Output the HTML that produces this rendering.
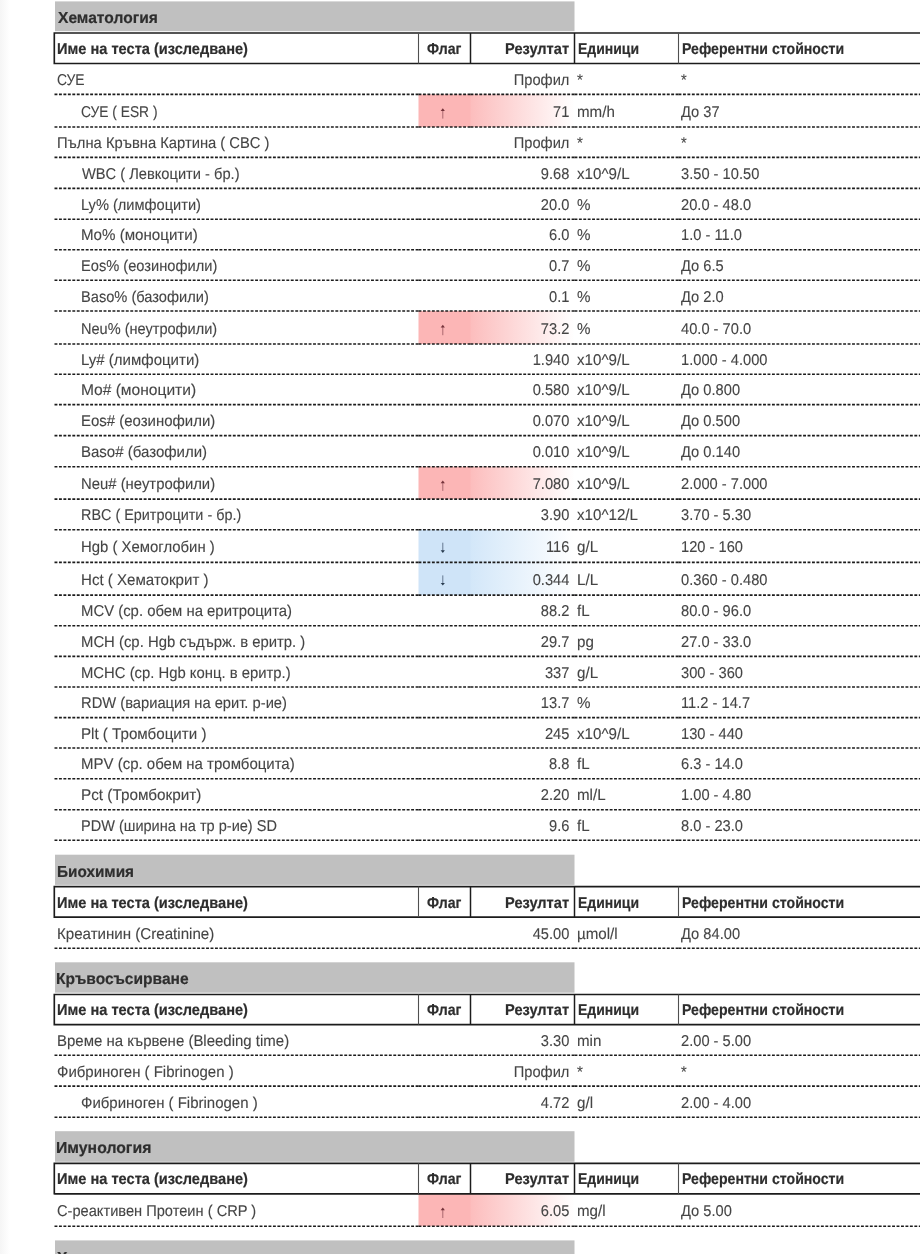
<!DOCTYPE html>
<html><head><meta charset="utf-8"><title>Резултати</title>
<style>
html,body{margin:0;padding:0;background:#fff;}
#lm{position:absolute;left:0;top:0;width:10px;height:1254px;background:linear-gradient(to right,#f5f5f5,#f9f9f9 40%,#fcfcfc 70%,#fff);}
body{width:920px;height:1254px;overflow:hidden;position:relative;font-family:"Liberation Sans",sans-serif;color:#454545;}
svg{position:absolute;left:0;top:0;}
.gt,.ht,.t{position:absolute;white-space:nowrap;line-height:20px;text-rendering:geometricPrecision;-webkit-text-stroke:0.2px currentColor;}
.t{-webkit-text-stroke-width:0.12px;}
.gt{font-weight:bold;font-size:15.9px;color:#2e2e2e;transform:scaleX(0.98);transform-origin:0 0;}
.ht{font-weight:bold;font-size:15.8px;color:#2e2e2e;transform-origin:0 0;}
.t{font-size:15.7px;transform:scaleX(0.935);transform-origin:0 0;}
.r{text-align:right;transform-origin:100% 0 !important;}
.c{text-align:center;transform-origin:50% 0 !important;}
#tx{position:absolute;left:0;top:0;width:920px;height:1254px;will-change:transform;}
</style></head><body>
<div id="lm"></div>
<svg width="920" height="1254" viewBox="0 0 920 1254">
<defs>
<linearGradient id="gp" x1="0" x2="1" y1="0" y2="0"><stop offset="0" stop-color="#fcbdbd"/><stop offset="1" stop-color="#fff"/></linearGradient>
<linearGradient id="gb" x1="0" x2="1" y1="0" y2="0"><stop offset="0" stop-color="#d3e7f9"/><stop offset="1" stop-color="#fff"/></linearGradient>
</defs>
<g>
<rect x="55" y="1.4" width="519.5" height="29.8" fill="#c0c0c0"/>
<rect x="418.5" y="94.4" width="52.6" height="32.6" fill="#fcb6b6"/>
<rect x="470.5" y="94.4" width="104" height="32.6" fill="url(#gp)"/>
<rect x="418.5" y="311" width="52.6" height="33" fill="#fcb6b6"/>
<rect x="470.5" y="311" width="104" height="33" fill="url(#gp)"/>
<rect x="418.5" y="466.7" width="52.6" height="32.4" fill="#fcb6b6"/>
<rect x="470.5" y="466.7" width="104" height="32.4" fill="url(#gp)"/>
<rect x="418.5" y="529.7" width="52.6" height="32.7" fill="#cfe4f8"/>
<rect x="470.5" y="529.7" width="104" height="32.7" fill="url(#gb)"/>
<rect x="418.5" y="562.4" width="52.6" height="32.7" fill="#cfe4f8"/>
<rect x="470.5" y="562.4" width="104" height="32.7" fill="url(#gb)"/>
<rect x="55" y="854.7" width="519.5" height="30.2" fill="#c0c0c0"/>
<rect x="55" y="962.3" width="519.5" height="30.4" fill="#c0c0c0"/>
<rect x="55" y="1131.2" width="519.5" height="30.6" fill="#c0c0c0"/>
<rect x="418.5" y="1193.8" width="52.6" height="32.4" fill="#fcb6b6"/>
<rect x="470.5" y="1193.8" width="104" height="32.4" fill="url(#gp)"/>
<rect x="55" y="1240.4" width="519.5" height="30.6" fill="#c0c0c0"/>
</g>
<g stroke="#1c1c1c" stroke-width="1.6" fill="none">
<path d="M960 33H54.3 M54.3 63.5H960 M54.3 32.18V64.32" stroke="#1c1c1c" stroke-width="1.65" fill="none"/>
<path d="M418.5 33V63.5" stroke="#505050" stroke-width="1.1"/>
<path d="M470.5 33V63.5" stroke="#1c1c1c" stroke-width="1.5"/>
<path d="M574.5 33V63.5" stroke="#1c1c1c" stroke-width="1.5"/>
<path d="M678.5 33V63.5" stroke="#505050" stroke-width="1.1"/>
<line x1="54.5" y1="94.4" x2="418.5" y2="94.4" stroke-dasharray="2.9 1.5580"/><line x1="418.5" y1="94.4" x2="470.5" y2="94.4" stroke-dasharray="2.9 1.5636"/><line x1="470.5" y1="94.4" x2="574.5" y2="94.4" stroke-dasharray="2.9 1.4957"/><line x1="574.5" y1="94.4" x2="678.5" y2="94.4" stroke-dasharray="2.9 1.4957"/><line x1="678.5" y1="94.4" x2="960" y2="94.4" stroke-dasharray="2.9 1.5500"/>
<line x1="54.5" y1="127" x2="418.5" y2="127" stroke-dasharray="2.9 1.5580"/><line x1="418.5" y1="127" x2="470.5" y2="127" stroke-dasharray="2.9 1.5636"/><line x1="470.5" y1="127" x2="574.5" y2="127" stroke-dasharray="2.9 1.4957"/><line x1="574.5" y1="127" x2="678.5" y2="127" stroke-dasharray="2.9 1.4957"/><line x1="678.5" y1="127" x2="960" y2="127" stroke-dasharray="2.9 1.5500"/>
<line x1="54.5" y1="157.4" x2="418.5" y2="157.4" stroke-dasharray="2.9 1.5580"/><line x1="418.5" y1="157.4" x2="470.5" y2="157.4" stroke-dasharray="2.9 1.5636"/><line x1="470.5" y1="157.4" x2="574.5" y2="157.4" stroke-dasharray="2.9 1.4957"/><line x1="574.5" y1="157.4" x2="678.5" y2="157.4" stroke-dasharray="2.9 1.4957"/><line x1="678.5" y1="157.4" x2="960" y2="157.4" stroke-dasharray="2.9 1.5500"/>
<line x1="54.5" y1="188.4" x2="418.5" y2="188.4" stroke-dasharray="2.9 1.5580"/><line x1="418.5" y1="188.4" x2="470.5" y2="188.4" stroke-dasharray="2.9 1.5636"/><line x1="470.5" y1="188.4" x2="574.5" y2="188.4" stroke-dasharray="2.9 1.4957"/><line x1="574.5" y1="188.4" x2="678.5" y2="188.4" stroke-dasharray="2.9 1.4957"/><line x1="678.5" y1="188.4" x2="960" y2="188.4" stroke-dasharray="2.9 1.5500"/>
<line x1="54.5" y1="219.2" x2="418.5" y2="219.2" stroke-dasharray="2.9 1.5580"/><line x1="418.5" y1="219.2" x2="470.5" y2="219.2" stroke-dasharray="2.9 1.5636"/><line x1="470.5" y1="219.2" x2="574.5" y2="219.2" stroke-dasharray="2.9 1.4957"/><line x1="574.5" y1="219.2" x2="678.5" y2="219.2" stroke-dasharray="2.9 1.4957"/><line x1="678.5" y1="219.2" x2="960" y2="219.2" stroke-dasharray="2.9 1.5500"/>
<line x1="54.5" y1="249.8" x2="418.5" y2="249.8" stroke-dasharray="2.9 1.5580"/><line x1="418.5" y1="249.8" x2="470.5" y2="249.8" stroke-dasharray="2.9 1.5636"/><line x1="470.5" y1="249.8" x2="574.5" y2="249.8" stroke-dasharray="2.9 1.4957"/><line x1="574.5" y1="249.8" x2="678.5" y2="249.8" stroke-dasharray="2.9 1.4957"/><line x1="678.5" y1="249.8" x2="960" y2="249.8" stroke-dasharray="2.9 1.5500"/>
<line x1="54.5" y1="280.2" x2="418.5" y2="280.2" stroke-dasharray="2.9 1.5580"/><line x1="418.5" y1="280.2" x2="470.5" y2="280.2" stroke-dasharray="2.9 1.5636"/><line x1="470.5" y1="280.2" x2="574.5" y2="280.2" stroke-dasharray="2.9 1.4957"/><line x1="574.5" y1="280.2" x2="678.5" y2="280.2" stroke-dasharray="2.9 1.4957"/><line x1="678.5" y1="280.2" x2="960" y2="280.2" stroke-dasharray="2.9 1.5500"/>
<line x1="54.5" y1="311" x2="418.5" y2="311" stroke-dasharray="2.9 1.5580"/><line x1="418.5" y1="311" x2="470.5" y2="311" stroke-dasharray="2.9 1.5636"/><line x1="470.5" y1="311" x2="574.5" y2="311" stroke-dasharray="2.9 1.4957"/><line x1="574.5" y1="311" x2="678.5" y2="311" stroke-dasharray="2.9 1.4957"/><line x1="678.5" y1="311" x2="960" y2="311" stroke-dasharray="2.9 1.5500"/>
<line x1="54.5" y1="344" x2="418.5" y2="344" stroke-dasharray="2.9 1.5580"/><line x1="418.5" y1="344" x2="470.5" y2="344" stroke-dasharray="2.9 1.5636"/><line x1="470.5" y1="344" x2="574.5" y2="344" stroke-dasharray="2.9 1.4957"/><line x1="574.5" y1="344" x2="678.5" y2="344" stroke-dasharray="2.9 1.4957"/><line x1="678.5" y1="344" x2="960" y2="344" stroke-dasharray="2.9 1.5500"/>
<line x1="54.5" y1="374.3" x2="418.5" y2="374.3" stroke-dasharray="2.9 1.5580"/><line x1="418.5" y1="374.3" x2="470.5" y2="374.3" stroke-dasharray="2.9 1.5636"/><line x1="470.5" y1="374.3" x2="574.5" y2="374.3" stroke-dasharray="2.9 1.4957"/><line x1="574.5" y1="374.3" x2="678.5" y2="374.3" stroke-dasharray="2.9 1.4957"/><line x1="678.5" y1="374.3" x2="960" y2="374.3" stroke-dasharray="2.9 1.5500"/>
<line x1="54.5" y1="404.6" x2="418.5" y2="404.6" stroke-dasharray="2.9 1.5580"/><line x1="418.5" y1="404.6" x2="470.5" y2="404.6" stroke-dasharray="2.9 1.5636"/><line x1="470.5" y1="404.6" x2="574.5" y2="404.6" stroke-dasharray="2.9 1.4957"/><line x1="574.5" y1="404.6" x2="678.5" y2="404.6" stroke-dasharray="2.9 1.4957"/><line x1="678.5" y1="404.6" x2="960" y2="404.6" stroke-dasharray="2.9 1.5500"/>
<line x1="54.5" y1="435.6" x2="418.5" y2="435.6" stroke-dasharray="2.9 1.5580"/><line x1="418.5" y1="435.6" x2="470.5" y2="435.6" stroke-dasharray="2.9 1.5636"/><line x1="470.5" y1="435.6" x2="574.5" y2="435.6" stroke-dasharray="2.9 1.4957"/><line x1="574.5" y1="435.6" x2="678.5" y2="435.6" stroke-dasharray="2.9 1.4957"/><line x1="678.5" y1="435.6" x2="960" y2="435.6" stroke-dasharray="2.9 1.5500"/>
<line x1="54.5" y1="466.7" x2="418.5" y2="466.7" stroke-dasharray="2.9 1.5580"/><line x1="418.5" y1="466.7" x2="470.5" y2="466.7" stroke-dasharray="2.9 1.5636"/><line x1="470.5" y1="466.7" x2="574.5" y2="466.7" stroke-dasharray="2.9 1.4957"/><line x1="574.5" y1="466.7" x2="678.5" y2="466.7" stroke-dasharray="2.9 1.4957"/><line x1="678.5" y1="466.7" x2="960" y2="466.7" stroke-dasharray="2.9 1.5500"/>
<line x1="54.5" y1="499.1" x2="418.5" y2="499.1" stroke-dasharray="2.9 1.5580"/><line x1="418.5" y1="499.1" x2="470.5" y2="499.1" stroke-dasharray="2.9 1.5636"/><line x1="470.5" y1="499.1" x2="574.5" y2="499.1" stroke-dasharray="2.9 1.4957"/><line x1="574.5" y1="499.1" x2="678.5" y2="499.1" stroke-dasharray="2.9 1.4957"/><line x1="678.5" y1="499.1" x2="960" y2="499.1" stroke-dasharray="2.9 1.5500"/>
<line x1="54.5" y1="529.7" x2="418.5" y2="529.7" stroke-dasharray="2.9 1.5580"/><line x1="418.5" y1="529.7" x2="470.5" y2="529.7" stroke-dasharray="2.9 1.5636"/><line x1="470.5" y1="529.7" x2="574.5" y2="529.7" stroke-dasharray="2.9 1.4957"/><line x1="574.5" y1="529.7" x2="678.5" y2="529.7" stroke-dasharray="2.9 1.4957"/><line x1="678.5" y1="529.7" x2="960" y2="529.7" stroke-dasharray="2.9 1.5500"/>
<line x1="54.5" y1="562.4" x2="418.5" y2="562.4" stroke-dasharray="2.9 1.5580"/><line x1="418.5" y1="562.4" x2="470.5" y2="562.4" stroke-dasharray="2.9 1.5636"/><line x1="470.5" y1="562.4" x2="574.5" y2="562.4" stroke-dasharray="2.9 1.4957"/><line x1="574.5" y1="562.4" x2="678.5" y2="562.4" stroke-dasharray="2.9 1.4957"/><line x1="678.5" y1="562.4" x2="960" y2="562.4" stroke-dasharray="2.9 1.5500"/>
<line x1="54.5" y1="595.1" x2="418.5" y2="595.1" stroke-dasharray="2.9 1.5580"/><line x1="418.5" y1="595.1" x2="470.5" y2="595.1" stroke-dasharray="2.9 1.5636"/><line x1="470.5" y1="595.1" x2="574.5" y2="595.1" stroke-dasharray="2.9 1.4957"/><line x1="574.5" y1="595.1" x2="678.5" y2="595.1" stroke-dasharray="2.9 1.4957"/><line x1="678.5" y1="595.1" x2="960" y2="595.1" stroke-dasharray="2.9 1.5500"/>
<line x1="54.5" y1="625.7" x2="418.5" y2="625.7" stroke-dasharray="2.9 1.5580"/><line x1="418.5" y1="625.7" x2="470.5" y2="625.7" stroke-dasharray="2.9 1.5636"/><line x1="470.5" y1="625.7" x2="574.5" y2="625.7" stroke-dasharray="2.9 1.4957"/><line x1="574.5" y1="625.7" x2="678.5" y2="625.7" stroke-dasharray="2.9 1.4957"/><line x1="678.5" y1="625.7" x2="960" y2="625.7" stroke-dasharray="2.9 1.5500"/>
<line x1="54.5" y1="656.4" x2="418.5" y2="656.4" stroke-dasharray="2.9 1.5580"/><line x1="418.5" y1="656.4" x2="470.5" y2="656.4" stroke-dasharray="2.9 1.5636"/><line x1="470.5" y1="656.4" x2="574.5" y2="656.4" stroke-dasharray="2.9 1.4957"/><line x1="574.5" y1="656.4" x2="678.5" y2="656.4" stroke-dasharray="2.9 1.4957"/><line x1="678.5" y1="656.4" x2="960" y2="656.4" stroke-dasharray="2.9 1.5500"/>
<line x1="54.5" y1="687" x2="418.5" y2="687" stroke-dasharray="2.9 1.5580"/><line x1="418.5" y1="687" x2="470.5" y2="687" stroke-dasharray="2.9 1.5636"/><line x1="470.5" y1="687" x2="574.5" y2="687" stroke-dasharray="2.9 1.4957"/><line x1="574.5" y1="687" x2="678.5" y2="687" stroke-dasharray="2.9 1.4957"/><line x1="678.5" y1="687" x2="960" y2="687" stroke-dasharray="2.9 1.5500"/>
<line x1="54.5" y1="717.6" x2="418.5" y2="717.6" stroke-dasharray="2.9 1.5580"/><line x1="418.5" y1="717.6" x2="470.5" y2="717.6" stroke-dasharray="2.9 1.5636"/><line x1="470.5" y1="717.6" x2="574.5" y2="717.6" stroke-dasharray="2.9 1.4957"/><line x1="574.5" y1="717.6" x2="678.5" y2="717.6" stroke-dasharray="2.9 1.4957"/><line x1="678.5" y1="717.6" x2="960" y2="717.6" stroke-dasharray="2.9 1.5500"/>
<line x1="54.5" y1="748" x2="418.5" y2="748" stroke-dasharray="2.9 1.5580"/><line x1="418.5" y1="748" x2="470.5" y2="748" stroke-dasharray="2.9 1.5636"/><line x1="470.5" y1="748" x2="574.5" y2="748" stroke-dasharray="2.9 1.4957"/><line x1="574.5" y1="748" x2="678.5" y2="748" stroke-dasharray="2.9 1.4957"/><line x1="678.5" y1="748" x2="960" y2="748" stroke-dasharray="2.9 1.5500"/>
<line x1="54.5" y1="778.7" x2="418.5" y2="778.7" stroke-dasharray="2.9 1.5580"/><line x1="418.5" y1="778.7" x2="470.5" y2="778.7" stroke-dasharray="2.9 1.5636"/><line x1="470.5" y1="778.7" x2="574.5" y2="778.7" stroke-dasharray="2.9 1.4957"/><line x1="574.5" y1="778.7" x2="678.5" y2="778.7" stroke-dasharray="2.9 1.4957"/><line x1="678.5" y1="778.7" x2="960" y2="778.7" stroke-dasharray="2.9 1.5500"/>
<line x1="54.5" y1="809.8" x2="418.5" y2="809.8" stroke-dasharray="2.9 1.5580"/><line x1="418.5" y1="809.8" x2="470.5" y2="809.8" stroke-dasharray="2.9 1.5636"/><line x1="470.5" y1="809.8" x2="574.5" y2="809.8" stroke-dasharray="2.9 1.4957"/><line x1="574.5" y1="809.8" x2="678.5" y2="809.8" stroke-dasharray="2.9 1.4957"/><line x1="678.5" y1="809.8" x2="960" y2="809.8" stroke-dasharray="2.9 1.5500"/>
<line x1="54.5" y1="840.2" x2="418.5" y2="840.2" stroke-dasharray="2.9 1.5580"/><line x1="418.5" y1="840.2" x2="470.5" y2="840.2" stroke-dasharray="2.9 1.5636"/><line x1="470.5" y1="840.2" x2="574.5" y2="840.2" stroke-dasharray="2.9 1.4957"/><line x1="574.5" y1="840.2" x2="678.5" y2="840.2" stroke-dasharray="2.9 1.4957"/><line x1="678.5" y1="840.2" x2="960" y2="840.2" stroke-dasharray="2.9 1.5500"/>
<path d="M960 886.6H54.3 M54.3 917.1H960 M54.3 885.78V917.92" stroke="#1c1c1c" stroke-width="1.65" fill="none"/>
<path d="M418.5 886.6V917.1" stroke="#505050" stroke-width="1.1"/>
<path d="M470.5 886.6V917.1" stroke="#1c1c1c" stroke-width="1.5"/>
<path d="M574.5 886.6V917.1" stroke="#1c1c1c" stroke-width="1.5"/>
<path d="M678.5 886.6V917.1" stroke="#505050" stroke-width="1.1"/>
<line x1="54.5" y1="948.3" x2="418.5" y2="948.3" stroke-dasharray="2.9 1.5580"/><line x1="418.5" y1="948.3" x2="470.5" y2="948.3" stroke-dasharray="2.9 1.5636"/><line x1="470.5" y1="948.3" x2="574.5" y2="948.3" stroke-dasharray="2.9 1.4957"/><line x1="574.5" y1="948.3" x2="678.5" y2="948.3" stroke-dasharray="2.9 1.4957"/><line x1="678.5" y1="948.3" x2="960" y2="948.3" stroke-dasharray="2.9 1.5500"/>
<path d="M960 994.5H54.3 M54.3 1024.6H960 M54.3 993.68V1025.42" stroke="#1c1c1c" stroke-width="1.65" fill="none"/>
<path d="M418.5 994.5V1024.6" stroke="#505050" stroke-width="1.1"/>
<path d="M470.5 994.5V1024.6" stroke="#1c1c1c" stroke-width="1.5"/>
<path d="M574.5 994.5V1024.6" stroke="#1c1c1c" stroke-width="1.5"/>
<path d="M678.5 994.5V1024.6" stroke="#505050" stroke-width="1.1"/>
<line x1="54.5" y1="1055.2" x2="418.5" y2="1055.2" stroke-dasharray="2.9 1.5580"/><line x1="418.5" y1="1055.2" x2="470.5" y2="1055.2" stroke-dasharray="2.9 1.5636"/><line x1="470.5" y1="1055.2" x2="574.5" y2="1055.2" stroke-dasharray="2.9 1.4957"/><line x1="574.5" y1="1055.2" x2="678.5" y2="1055.2" stroke-dasharray="2.9 1.4957"/><line x1="678.5" y1="1055.2" x2="960" y2="1055.2" stroke-dasharray="2.9 1.5500"/>
<line x1="54.5" y1="1086.1" x2="418.5" y2="1086.1" stroke-dasharray="2.9 1.5580"/><line x1="418.5" y1="1086.1" x2="470.5" y2="1086.1" stroke-dasharray="2.9 1.5636"/><line x1="470.5" y1="1086.1" x2="574.5" y2="1086.1" stroke-dasharray="2.9 1.4957"/><line x1="574.5" y1="1086.1" x2="678.5" y2="1086.1" stroke-dasharray="2.9 1.4957"/><line x1="678.5" y1="1086.1" x2="960" y2="1086.1" stroke-dasharray="2.9 1.5500"/>
<line x1="54.5" y1="1117.3" x2="418.5" y2="1117.3" stroke-dasharray="2.9 1.5580"/><line x1="418.5" y1="1117.3" x2="470.5" y2="1117.3" stroke-dasharray="2.9 1.5636"/><line x1="470.5" y1="1117.3" x2="574.5" y2="1117.3" stroke-dasharray="2.9 1.4957"/><line x1="574.5" y1="1117.3" x2="678.5" y2="1117.3" stroke-dasharray="2.9 1.4957"/><line x1="678.5" y1="1117.3" x2="960" y2="1117.3" stroke-dasharray="2.9 1.5500"/>
<path d="M960 1163.35H54.3 M54.3 1193.8H960 M54.3 1162.53V1194.62" stroke="#1c1c1c" stroke-width="1.65" fill="none"/>
<path d="M418.5 1163.35V1193.8" stroke="#505050" stroke-width="1.1"/>
<path d="M470.5 1163.35V1193.8" stroke="#1c1c1c" stroke-width="1.5"/>
<path d="M574.5 1163.35V1193.8" stroke="#1c1c1c" stroke-width="1.5"/>
<path d="M678.5 1163.35V1193.8" stroke="#505050" stroke-width="1.1"/>
<line x1="54.5" y1="1226.2" x2="418.5" y2="1226.2" stroke-dasharray="2.9 1.5580"/><line x1="418.5" y1="1226.2" x2="470.5" y2="1226.2" stroke-dasharray="2.9 1.5636"/><line x1="470.5" y1="1226.2" x2="574.5" y2="1226.2" stroke-dasharray="2.9 1.4957"/><line x1="574.5" y1="1226.2" x2="678.5" y2="1226.2" stroke-dasharray="2.9 1.4957"/><line x1="678.5" y1="1226.2" x2="960" y2="1226.2" stroke-dasharray="2.9 1.5500"/>
</g>
<g>
<path d="M442.8 110V118.6" stroke="#a7646c" stroke-width="0.95"/>
<path d="M440.7 110.9L442.8 108.2L444.9 110.9Z" fill="#74323a"/>
<path d="M442.8 326.6V335.2" stroke="#a7646c" stroke-width="0.95"/>
<path d="M440.7 327.5L442.8 324.8L444.9 327.5Z" fill="#74323a"/>
<path d="M442.8 482.3V490.9" stroke="#a7646c" stroke-width="0.95"/>
<path d="M440.7 483.2L442.8 480.5L444.9 483.2Z" fill="#74323a"/>
<path d="M442.8 542.7V551.1" stroke="#5f738a" stroke-width="0.95"/>
<path d="M440.7 550.2L442.8 552.9L444.9 550.2Z" fill="#2a3c50"/>
<path d="M442.8 575.4V583.8" stroke="#5f738a" stroke-width="0.95"/>
<path d="M440.7 582.9L442.8 585.6L444.9 582.9Z" fill="#2a3c50"/>
<path d="M442.8 1209.4V1218" stroke="#a7646c" stroke-width="0.95"/>
<path d="M440.7 1210.3L442.8 1207.6L444.9 1210.3Z" fill="#74323a"/>
</g>
</svg>
<div id="tx">
<div class="gt" style="left:57.9px;top:9px;transform:scaleX(0.9812)">Хематология</div>
<div class="ht" style="left:57.38px;top:40px;transform:scaleX(0.9239)">Име на теста (изследване)</div>
<div class="ht" style="left:426.8px;top:40px;transform:scaleX(0.8921)">Флаг</div>
<div class="ht" style="left:504.58px;top:40px;transform:scaleX(0.925)">Резултат</div>
<div class="ht" style="left:578.11px;top:40px;transform:scaleX(0.8851)">Единици</div>
<div class="ht" style="left:681.81px;top:40px;transform:scaleX(0.8933)">Референтни стойности</div>
<div class="t" style="left:57.02px;top:71px;transform:scaleX(0.8833)">СУЕ</div>
<div class="t r" style="left:470.5px;width:98.4px;top:71px">Профил</div>
<div class="t" style="left:577.3px;top:71px;transform:scaleX(0.965)">*</div>
<div class="t" style="left:680.8px;top:71px">*</div>
<div class="t" style="left:80.92px;top:103px;transform:scaleX(0.8788)">СУЕ ( ESR )</div>
<div class="t r" style="left:470.5px;width:98.4px;top:103px">71</div>
<div class="t" style="left:577.3px;top:103px;transform:scaleX(0.965)">mm/h</div>
<div class="t" style="left:680.8px;top:103px">До 37</div>
<div class="t" style="left:56.86px;top:134px;transform:scaleX(0.9406)">Пълна Кръвна Картина ( CBC )</div>
<div class="t r" style="left:470.5px;width:98.4px;top:134px">Профил</div>
<div class="t" style="left:577.3px;top:134px;transform:scaleX(0.965)">*</div>
<div class="t" style="left:680.8px;top:134px">*</div>
<div class="t" style="left:82.3px;top:165px;transform:scaleX(0.9345)">WBC ( Левкоцити - бр.)</div>
<div class="t r" style="left:470.5px;width:98.4px;top:165px">9.68</div>
<div class="t" style="left:577.3px;top:165px;transform:scaleX(0.965)">x10^9/L</div>
<div class="t" style="left:680.8px;top:165px">3.50 - 10.50</div>
<div class="t" style="left:81.37px;top:196px;transform:scaleX(0.9315)">Ly% (лимфоцити)</div>
<div class="t r" style="left:470.5px;width:98.4px;top:196px">20.0</div>
<div class="t" style="left:577.3px;top:196px;transform:scaleX(0.965)">%</div>
<div class="t" style="left:680.8px;top:196px">20.0 - 48.0</div>
<div class="t" style="left:81.34px;top:226px;transform:scaleX(0.9639)">Mo% (моноцити)</div>
<div class="t r" style="left:470.5px;width:98.4px;top:226px">6.0</div>
<div class="t" style="left:577.3px;top:226px;transform:scaleX(0.965)">%</div>
<div class="t" style="left:680.8px;top:226px">1.0 - 11.0</div>
<div class="t" style="left:81.37px;top:257px;transform:scaleX(0.934)">Eos% (еозинофили)</div>
<div class="t r" style="left:470.5px;width:98.4px;top:257px">0.7</div>
<div class="t" style="left:577.3px;top:257px;transform:scaleX(0.965)">%</div>
<div class="t" style="left:680.8px;top:257px">До 6.5</div>
<div class="t" style="left:81.37px;top:288px;transform:scaleX(0.9326)">Baso% (базофили)</div>
<div class="t r" style="left:470.5px;width:98.4px;top:288px">0.1</div>
<div class="t" style="left:577.3px;top:288px;transform:scaleX(0.965)">%</div>
<div class="t" style="left:680.8px;top:288px">До 2.0</div>
<div class="t" style="left:81.37px;top:320px;transform:scaleX(0.9276)">Neu% (неутрофили)</div>
<div class="t r" style="left:470.5px;width:98.4px;top:320px">73.2</div>
<div class="t" style="left:577.3px;top:320px;transform:scaleX(0.965)">%</div>
<div class="t" style="left:680.8px;top:320px">40.0 - 70.0</div>
<div class="t" style="left:81.34px;top:351px;transform:scaleX(0.9574)">Ly# (лимфоцити)</div>
<div class="t r" style="left:470.5px;width:98.4px;top:351px">1.940</div>
<div class="t" style="left:577.3px;top:351px;transform:scaleX(0.965)">x10^9/L</div>
<div class="t" style="left:680.8px;top:351px">1.000 - 4.000</div>
<div class="t" style="left:81.31px;top:381px;transform:scaleX(0.993)">Mo# (моноцити)</div>
<div class="t r" style="left:470.5px;width:98.4px;top:381px">0.580</div>
<div class="t" style="left:577.3px;top:381px;transform:scaleX(0.965)">x10^9/L</div>
<div class="t" style="left:680.8px;top:381px">До 0.800</div>
<div class="t" style="left:81.35px;top:412px;transform:scaleX(0.954)">Eos# (еозинофили)</div>
<div class="t r" style="left:470.5px;width:98.4px;top:412px">0.070</div>
<div class="t" style="left:577.3px;top:412px;transform:scaleX(0.965)">x10^9/L</div>
<div class="t" style="left:680.8px;top:412px">До 0.500</div>
<div class="t" style="left:81.34px;top:443px;transform:scaleX(0.9569)">Baso# (базофили)</div>
<div class="t r" style="left:470.5px;width:98.4px;top:443px">0.010</div>
<div class="t" style="left:577.3px;top:443px;transform:scaleX(0.965)">x10^9/L</div>
<div class="t" style="left:680.8px;top:443px">До 0.140</div>
<div class="t" style="left:81.35px;top:475px;transform:scaleX(0.9471)">Neu# (неутрофили)</div>
<div class="t r" style="left:470.5px;width:98.4px;top:475px">7.080</div>
<div class="t" style="left:577.3px;top:475px;transform:scaleX(0.965)">x10^9/L</div>
<div class="t" style="left:680.8px;top:475px">2.000 - 7.000</div>
<div class="t" style="left:81.38px;top:506px;transform:scaleX(0.9179)">RBC ( Еритроцити - бр.)</div>
<div class="t r" style="left:470.5px;width:98.4px;top:506px">3.90</div>
<div class="t" style="left:577.3px;top:506px;transform:scaleX(0.965)">x10^12/L</div>
<div class="t" style="left:680.8px;top:506px">3.70 - 5.30</div>
<div class="t" style="left:81.35px;top:538px;transform:scaleX(0.9496)">Hgb ( Хемоглобин )</div>
<div class="t r" style="left:470.5px;width:98.4px;top:538px">116</div>
<div class="t" style="left:577.3px;top:538px;transform:scaleX(0.965)">g/L</div>
<div class="t" style="left:680.8px;top:538px">120 - 160</div>
<div class="t" style="left:81.34px;top:571px;transform:scaleX(0.9611)">Hct ( Хематокрит )</div>
<div class="t r" style="left:470.5px;width:98.4px;top:571px">0.344</div>
<div class="t" style="left:577.3px;top:571px;transform:scaleX(0.965)">L/L</div>
<div class="t" style="left:680.8px;top:571px">0.360 - 0.480</div>
<div class="t" style="left:81.35px;top:602px;transform:scaleX(0.9489)">MCV (ср. обем на еритроцита)</div>
<div class="t r" style="left:470.5px;width:98.4px;top:602px">88.2</div>
<div class="t" style="left:577.3px;top:602px;transform:scaleX(0.965)">fL</div>
<div class="t" style="left:680.8px;top:602px">80.0 - 96.0</div>
<div class="t" style="left:81.35px;top:633px;transform:scaleX(0.9477)">MCH (ср. Hgb съдърж. в еритр. )</div>
<div class="t r" style="left:470.5px;width:98.4px;top:633px">29.7</div>
<div class="t" style="left:577.3px;top:633px;transform:scaleX(0.965)">pg</div>
<div class="t" style="left:680.8px;top:633px">27.0 - 33.0</div>
<div class="t" style="left:81.35px;top:664px;transform:scaleX(0.9459)">MCHC (ср. Hgb конц. в еритр.)</div>
<div class="t r" style="left:470.5px;width:98.4px;top:664px">337</div>
<div class="t" style="left:577.3px;top:664px;transform:scaleX(0.965)">g/L</div>
<div class="t" style="left:680.8px;top:664px">300 - 360</div>
<div class="t" style="left:81.36px;top:694px;transform:scaleX(0.9381)">RDW (вариация на ерит. р-ие)</div>
<div class="t r" style="left:470.5px;width:98.4px;top:694px">13.7</div>
<div class="t" style="left:577.3px;top:694px;transform:scaleX(0.965)">%</div>
<div class="t" style="left:680.8px;top:694px">11.2 - 14.7</div>
<div class="t" style="left:81.34px;top:725px;transform:scaleX(0.9648)">Plt ( Тромбоцити )</div>
<div class="t r" style="left:470.5px;width:98.4px;top:725px">245</div>
<div class="t" style="left:577.3px;top:725px;transform:scaleX(0.965)">x10^9/L</div>
<div class="t" style="left:680.8px;top:725px">130 - 440</div>
<div class="t" style="left:81.34px;top:755px;transform:scaleX(0.9554)">MPV (ср. обем на тромбоцита)</div>
<div class="t r" style="left:470.5px;width:98.4px;top:755px">8.8</div>
<div class="t" style="left:577.3px;top:755px;transform:scaleX(0.965)">fL</div>
<div class="t" style="left:680.8px;top:755px">6.3 - 14.0</div>
<div class="t" style="left:81.33px;top:786px;transform:scaleX(0.9746)">Pct (Тромбокрит)</div>
<div class="t r" style="left:470.5px;width:98.4px;top:786px">2.20</div>
<div class="t" style="left:577.3px;top:786px;transform:scaleX(0.965)">ml/L</div>
<div class="t" style="left:680.8px;top:786px">1.00 - 4.80</div>
<div class="t" style="left:81.37px;top:817px;transform:scaleX(0.9257)">PDW (ширина на тр р-ие) SD</div>
<div class="t r" style="left:470.5px;width:98.4px;top:817px">9.6</div>
<div class="t" style="left:577.3px;top:817px;transform:scaleX(0.965)">fL</div>
<div class="t" style="left:680.8px;top:817px">8.0 - 23.0</div>
<div class="gt" style="left:56.84px;top:863px;transform:scaleX(0.9641)">Биохимия</div>
<div class="ht" style="left:57.38px;top:894px;transform:scaleX(0.9239)">Име на теста (изследване)</div>
<div class="ht" style="left:426.8px;top:894px;transform:scaleX(0.8921)">Флаг</div>
<div class="ht" style="left:504.58px;top:894px;transform:scaleX(0.925)">Резултат</div>
<div class="ht" style="left:578.11px;top:894px;transform:scaleX(0.8851)">Единици</div>
<div class="ht" style="left:681.81px;top:894px;transform:scaleX(0.8933)">Референтни стойности</div>
<div class="t" style="left:56.84px;top:925px;transform:scaleX(0.9627)">Креатинин (Creatinine)</div>
<div class="t r" style="left:470.5px;width:98.4px;top:925px">45.00</div>
<div class="t" style="left:577.3px;top:925px;transform:scaleX(0.965)">µmol/l</div>
<div class="t" style="left:680.8px;top:925px">До 84.00</div>
<div class="gt" style="left:56.42px;top:970px;transform:scaleX(0.9799)">Кръвосъсирване</div>
<div class="ht" style="left:57.38px;top:1001px;transform:scaleX(0.9239)">Име на теста (изследване)</div>
<div class="ht" style="left:426.8px;top:1001px;transform:scaleX(0.8921)">Флаг</div>
<div class="ht" style="left:504.58px;top:1001px;transform:scaleX(0.925)">Резултат</div>
<div class="ht" style="left:578.11px;top:1001px;transform:scaleX(0.8851)">Единици</div>
<div class="ht" style="left:681.81px;top:1001px;transform:scaleX(0.8933)">Референтни стойности</div>
<div class="t" style="left:56.84px;top:1032px;transform:scaleX(0.9552)">Време на кървене (Bleeding time)</div>
<div class="t r" style="left:470.5px;width:98.4px;top:1032px">3.30</div>
<div class="t" style="left:577.3px;top:1032px;transform:scaleX(0.965)">min</div>
<div class="t" style="left:680.8px;top:1032px">2.00 - 5.00</div>
<div class="t" style="left:56.84px;top:1063px;transform:scaleX(0.9552)">Фибриноген ( Fibrinogen )</div>
<div class="t r" style="left:470.5px;width:98.4px;top:1063px">Профил</div>
<div class="t" style="left:577.3px;top:1063px;transform:scaleX(0.965)">*</div>
<div class="t" style="left:680.8px;top:1063px">*</div>
<div class="t" style="left:80.84px;top:1094px;transform:scaleX(0.9552)">Фибриноген ( Fibrinogen )</div>
<div class="t r" style="left:470.5px;width:98.4px;top:1094px">4.72</div>
<div class="t" style="left:577.3px;top:1094px;transform:scaleX(0.965)">g/l</div>
<div class="t" style="left:680.8px;top:1094px">2.00 - 4.00</div>
<div class="gt" style="left:56.41px;top:1139px;transform:scaleX(0.9936)">Имунология</div>
<div class="ht" style="left:57.38px;top:1170px;transform:scaleX(0.9239)">Име на теста (изследване)</div>
<div class="ht" style="left:426.8px;top:1170px;transform:scaleX(0.8921)">Флаг</div>
<div class="ht" style="left:504.58px;top:1170px;transform:scaleX(0.925)">Резултат</div>
<div class="ht" style="left:578.11px;top:1170px;transform:scaleX(0.8851)">Единици</div>
<div class="ht" style="left:681.81px;top:1170px;transform:scaleX(0.8933)">Референтни стойности</div>
<div class="t" style="left:56.67px;top:1202px;transform:scaleX(0.933)">С-реактивен Протеин ( CRP )</div>
<div class="t r" style="left:470.5px;width:98.4px;top:1202px">6.05</div>
<div class="t" style="left:577.3px;top:1202px;transform:scaleX(0.965)">mg/l</div>
<div class="t" style="left:680.8px;top:1202px">До 5.00</div>
<div class="gt" style="left:56.9px;top:1249px;transform:scaleX(0.98)">Хормони</div>
</div>
</body></html>
